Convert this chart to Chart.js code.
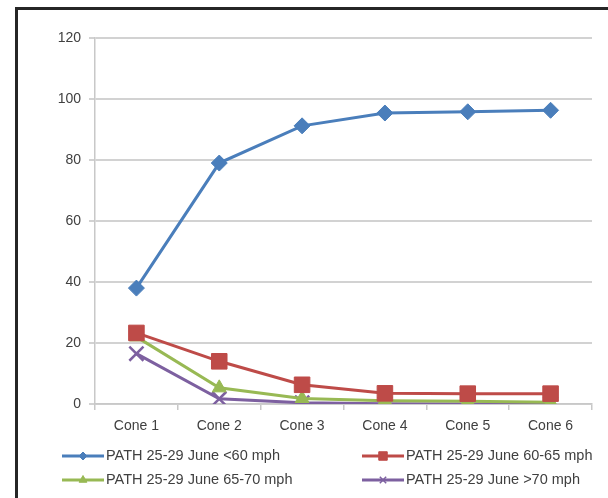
<!DOCTYPE html>
<html>
<head>
<meta charset="utf-8">
<script src="https://cdn.jsdelivr.net/npm/chart.js@4.4.0/dist/chart.umd.min.js"></script>
<style>
  html, body { margin: 0; padding: 0; background: #fff; overflow: hidden; }
  #frame {
    position: absolute; left: 15px; top: 7px; width: 700px; height: 600px;
    border-left: 3px solid #262626; border-top: 3px solid #262626;
  }
  #wrap { position: absolute; left: 0; top: 0; width: 608px; height: 498px; }
</style>
</head>
<body>
<div id="frame"></div>
<div id="wrap"><canvas id="speedChart" width="608" height="498"></canvas></div>
<script>
// categories and series
const cones = ['Cone 1', 'Cone 2', 'Cone 3', 'Cone 4', 'Cone 5', 'Cone 6'];
const under60 = [38, 79, 91.2, 95.4, 95.8, 96.3];
const from60to65 = [23.3, 14, 6.3, 3.5, 3.4, 3.4];
const from65to70 = [22, 5.3, 1.8, 1.1, 0.9, 0.6];
const over70 = [16.5, 1.7, 0.4, 0.1, 0, 0];
const yTicks = [0, 20, 40, 60, 80, 100, 120];

const seriesNames = [
    'PATH 25-29 June <60 mph',
    'PATH 25-29 June 60-65 mph',
    'PATH 25-29 June 65-70 mph',
    'PATH 25-29 June >70 mph'
];

Chart.defaults.font.family = "'Liberation Sans', Arial, sans-serif";
Chart.defaults.font.size = 14;
Chart.defaults.color = '#404040';

function series(label, data, color, style, radius, legendRadius) {
    return {
        label: label,
        data: data,
        borderColor: color,
        backgroundColor: color,
        borderWidth: 3,
        pointStyle: style,
        pointRadius: radius,
        pointBorderWidth: style === 'crossRot' ? 2.5 : 1,
        pointBackgroundColor: color,
        pointBorderColor: color,
        legendRadius: legendRadius,
        tension: 0
    };
}

// two-column legend under the axis, line + marker + text
const bottomLegend = {
    id: 'bottomLegend',
    afterDraw(chart) {
        const ctx = chart.ctx;
        const cols = [62, 362];
        const rows = [chart.chartArea.bottom + 52, chart.chartArea.bottom + 76];
        chart.data.datasets.forEach(function (ds, i) {
            const x = cols[i % 2];
            const y = rows[Math.floor(i / 2)];
            ctx.save();
            ctx.strokeStyle = ds.borderColor;
            ctx.fillStyle = ds.borderColor;
            ctx.lineWidth = 3;
            ctx.beginPath();
            ctx.moveTo(x, y);
            ctx.lineTo(x + 42, y);
            ctx.stroke();
            ctx.lineWidth = ds.pointStyle === 'crossRot' ? 1.5 : 1;
            Chart.helpers.drawPoint(ctx, {
                pointStyle: ds.pointStyle,
                radius: ds.legendRadius,
                borderWidth: ctx.lineWidth,
                rotation: 0
            }, x + 21, y);
            ctx.fillStyle = '#404040';
            ctx.font = "14.5px 'Liberation Sans', Arial, sans-serif";
            ctx.textBaseline = 'middle';
            ctx.fillText(ds.label, x + 44, y);
            ctx.restore();
        });
    }
};

const ctx = document.getElementById('speedChart').getContext('2d');
const speedChart = new Chart(ctx, {
    type: 'line',
    data: {
        labels: cones,
        datasets: [
            series(seriesNames[0], under60, '#4a7ebb', 'rectRot', 8, 4),
            series(seriesNames[1], from60to65, '#be4b48', 'rect', 11, 6),
            series(seriesNames[2], from65to70, '#98b954', 'triangle', 8, 4.5),
            series(seriesNames[3], over70, '#7d60a0', 'crossRot', 10, 4.5)
        ]
    },
    options: {
        responsive: false,
        animation: false,
        layout: { padding: { left: 0, right: 16, top: 38, bottom: 54 } },
        plugins: {
            legend: { display: false },
            tooltip: { enabled: false }
        },
        scales: {
            x: {
                offset: true,
                grid: {
                    offset: true,
                    drawOnChartArea: false,
                    drawTicks: true,
                    tickLength: 6,
                    color: '#c8c8c8',
                    lineWidth: 1.5
                },
                border: { color: '#c8c8c8', width: 1.5 },
                ticks: { padding: 8, color: '#404040' },
                afterFit(scale) { scale.height = 40; }
            },
            y: {
                min: 0,
                max: 120,
                afterBuildTicks(scale) { scale.ticks = yTicks.map(v => ({ value: v })); },
                grid: {
                    color: '#d2d2d2',
                    lineWidth: 2,
                    tickLength: 6
                },
                border: { color: '#c8c8c8', width: 1.5 },
                ticks: { padding: 8, color: '#404040' },
                afterFit(scale) { scale.width = 95; }
            }
        }
    },
    plugins: [bottomLegend]
});
</script>
</body>
</html>
